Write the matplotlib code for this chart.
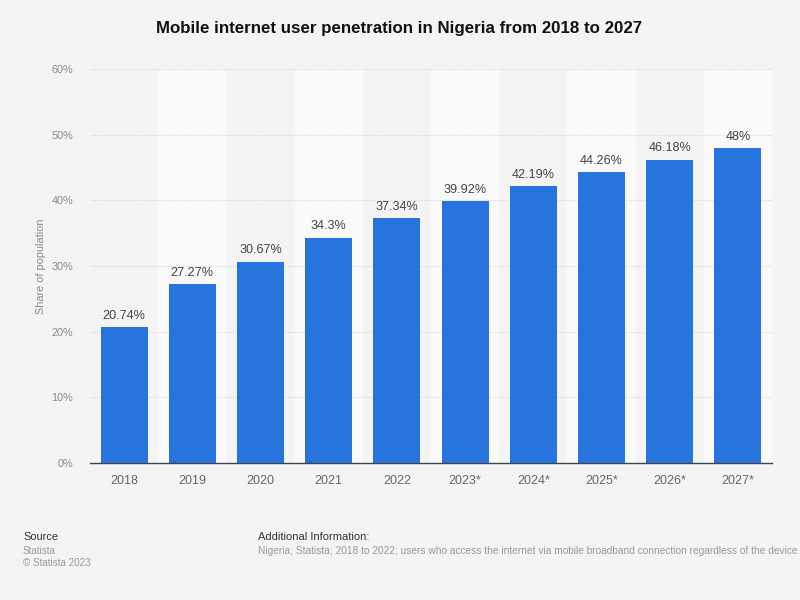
import matplotlib
matplotlib.use("Agg")
import matplotlib.pyplot as plt
import numpy as np

plt.rcParams['font.family'] = ['Liberation Sans', 'DejaVu Sans']

# data
years = ["2018", "2019", "2020", "2021", "2022", "2023*", "2024*", "2025*", "2026*", "2027*"]
shares = [20.74, 27.27, 30.67, 34.3, 37.34, 39.92, 42.19, 44.26, 46.18, 48]
value_labels = ["20.74%", "27.27%", "30.67%", "34.3%", "37.34%", "39.92%", "42.19%", "44.26%", "46.18%", "48%"]
y_ticks = [0, 10, 20, 30, 40, 50, 60]

bg = "#f4f4f4"
W, H = 800, 600

fig = plt.figure(figsize=(8, 6), dpi=100, facecolor=bg)
# axes box in pixels: x 90-772, y 69-463
ax = fig.add_axes([90 / W, 1 - 463 / H, (772 - 90) / W, (463 - 69) / H], facecolor=bg)

x = np.arange(len(years))

# alternating column bands
for i in x:
    if i % 2 == 1:
        ax.axvspan(i - 0.5, i + 0.5, color="#fafafa", lw=0, zorder=0)

ax.yaxis.grid(True, color="#dcdcdc", lw=0.8, ls=(0, (1, 1)), zorder=1)
ax.set_axisbelow(True)

ax.bar(x, shares, width=0.69, color="#2874de", zorder=2)

for xi, v, lab in zip(x, shares, value_labels):
    ax.annotate(lab, (xi, v), xytext=(0, 3.8), textcoords="offset points", ha="center", va="bottom",
                fontsize=9.1, color="#444444")

ax.set_xlim(-0.5, 9.5)
ax.set_ylim(0, 60)
ax.set_xticks(x, years)
ax.set_yticks(y_ticks, [f"{t}%" for t in y_ticks])
ax.tick_params(axis="x", length=0, pad=9, labelsize=9, labelcolor="#666666")
ax.tick_params(axis="y", length=0, pad=12, labelsize=7.8, labelcolor="#8a8a8a")

for s in ["top", "left", "right"]:
    ax.spines[s].set_visible(False)
ax.spines["bottom"].set_color("#3c4650")
ax.spines["bottom"].set_linewidth(1.0)

ax.set_ylabel("Share of population", fontsize=7.8, color="#8a8a8a")
ax.yaxis.set_label_coords((46.5 - 90) / (772 - 90), 0.5)

fig.text(399 / W, 1 - 29 / H, "Mobile internet user penetration in Nigeria from 2018 to 2027",
         ha="center", va="center", fontsize=12.15, fontweight="bold", color="#111111")

# footer
fig.text(23 / W, 1 - 537 / H, "Source", fontsize=7.9, color="#333333", va="center")
fig.text(23 / W, 1 - 550.5 / H, "Statista", fontsize=7.1, color="#999999", va="center")
fig.text(23 / W, 1 - 563 / H, "© Statista 2023", fontsize=7.1, color="#999999", va="center")
fig.text(258 / W, 1 - 537 / H, "Additional Information:", fontsize=8, color="#333333", va="center")
fig.text(258 / W, 1 - 550.5 / H,
         "Nigeria; Statista; 2018 to 2022; users who access the internet via mobile broadband connection regardless of the device",
         fontsize=7.25, color="#999999", va="center")

fig.savefig("out.png", dpi=100, facecolor=bg)
